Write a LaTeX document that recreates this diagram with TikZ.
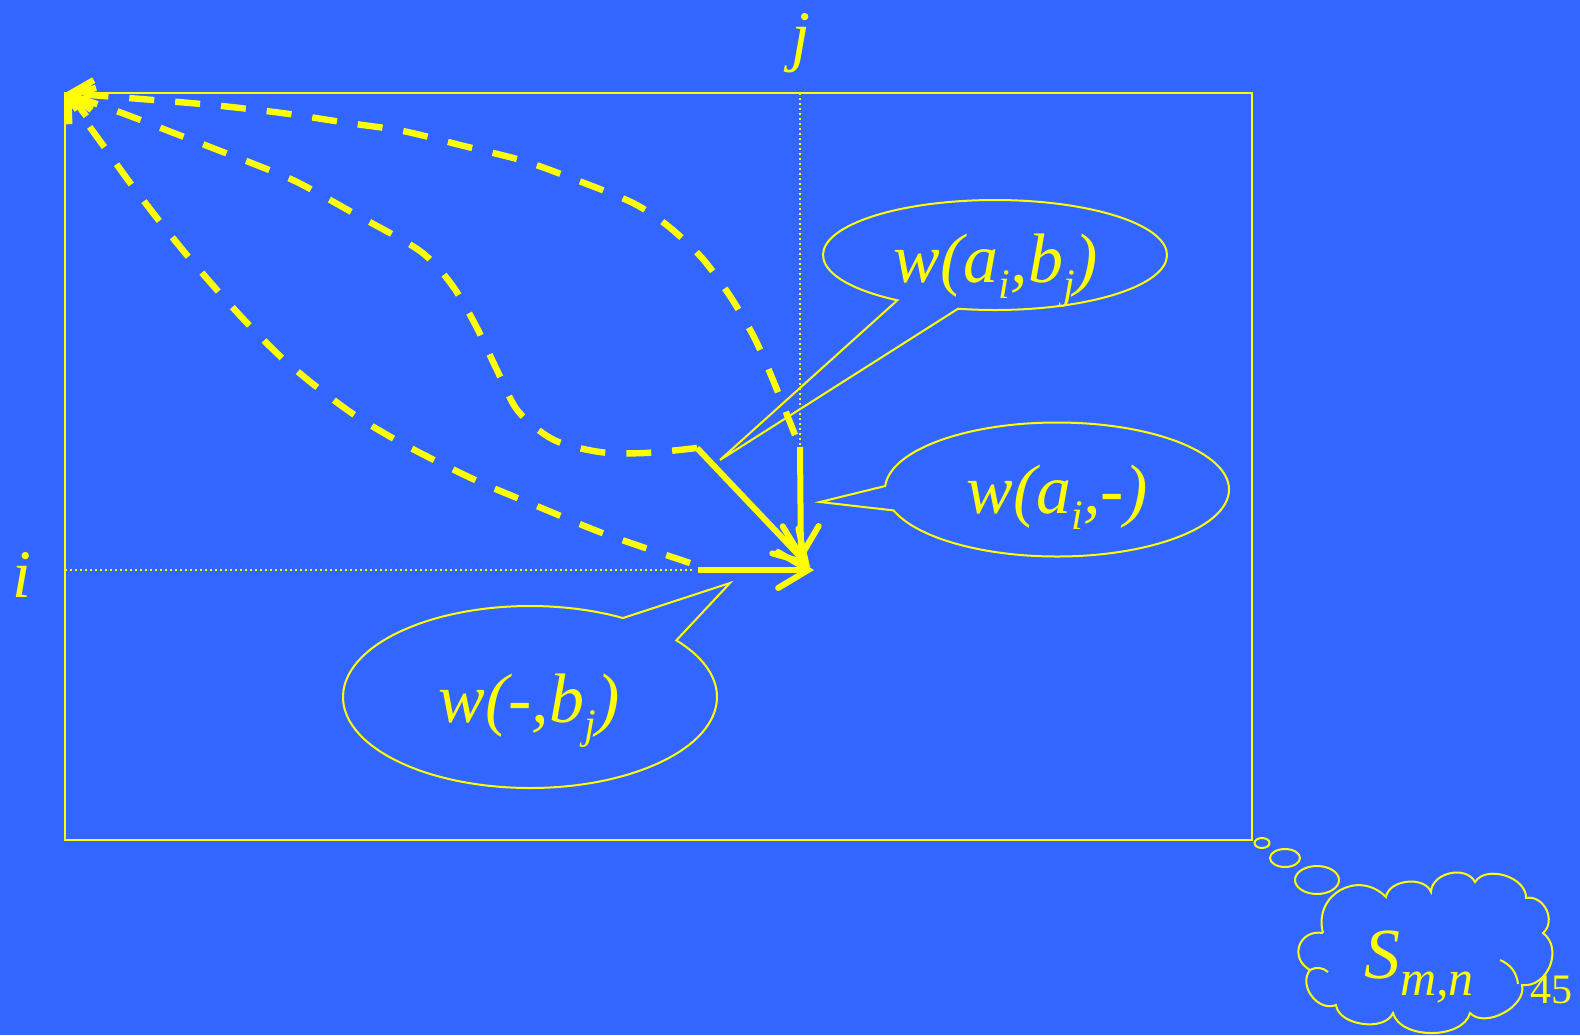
\documentclass[tikz,border=0pt]{standalone}
\usepackage{fontspec}
\setmainfont{Liberation Serif}
\usetikzlibrary{arrows.meta}
\definecolor{bg}{HTML}{3366FF}
\definecolor{yel}{HTML}{FFFF00}
\newcommand\sbx[1]{\raisebox{-8pt}{\fontsize{21}{21}\selectfont #1}}
\newcommand\sbs[1]{\raisebox{-8.5pt}{\fontsize{25}{25}\selectfont #1}}
\begin{document}
\begin{tikzpicture}[x=0.5pt,y=-0.5pt,
  thinline/.style={draw=yel,line width=1pt},
  frame/.style={draw=yel,line width=1.3pt},
  dotline/.style={draw=yel,line width=1pt,dash pattern=on 1pt off 1.5pt},
  callout/.style={draw=yel,line width=1pt,line join=miter},
  sarrow/.style={draw=yel,line width=3pt,-{Straight Barb[length=15pt,width=18pt,line cap=round]}},
  dcurve/.style={draw=yel,line width=3.2pt,dash pattern=on 12.5pt off 10.5pt,-{Straight Barb[length=11pt,width=15pt]}},
  lbl/.style={text=yel,inner sep=0pt,anchor=base,font=\fontsize{35}{40}\selectfont\itshape},
  axl/.style={text=yel,inner sep=0pt,anchor=base,font=\fontsize{34}{40}\selectfont\itshape}]
\fill[bg] (0,0) rectangle (1580,1035);
\useasboundingbox (0,0) rectangle (1580,1035);

% frame
\draw[frame] (65,93) rectangle (1252,840);

% key points
\coordinate (corner) at (65,93);
\coordinate (sV) at (800,447);
\coordinate (sD) at (697,448);
\coordinate (sH) at (698,570);
\coordinate (tipV) at (801,562);
\coordinate (tipD) at (810,567);
\coordinate (tipH) at (814,570);
\coordinate (dvTop) at (800,93);
\coordinate (dvBot) at (800,445);
\coordinate (dhL) at (65,570);
\coordinate (dhR) at (695,570);

% callouts
\coordinate (cA) at (995,255);
\coordinate (ptA) at (720,460);
\draw[callout] (cA) ++(124.6:172 and 55) arc[start angle=124.6,end angle=462.4,x radius=172,y radius=55] -- (ptA) -- cycle;
\coordinate (cB) at (1057,489.5);
\coordinate (ptB) at (820,502);
\draw[callout] (cB) ++(183:172 and 67) arc[start angle=183,end angle=521.8,x radius=172,y radius=67] -- (ptB) -- cycle;
\coordinate (cC) at (530,697);
\coordinate (ptC) at (730,583);
\draw[callout] (cC) ++(-38.5:187 and 91) arc[start angle=-38.5,end angle=299.8,x radius=187,y radius=91] -- (ptC) -- cycle;

\node[lbl] (tA) at (996,282) {w(a\sbx{i},b\sbx{j})};
\node[lbl] (tB) at (1057,513) {w(a\sbx{i},-)};
\node[lbl] (tC) at (529,722) {w(-,b\sbx{j})};

% axis labels
\node[axl] (lj) at (801,58) {j};
\node[axl] (li) at (22,597) {i};

% dotted guides
\draw[dotline] (dvTop) -- (dvBot);
\draw[dotline] (dhL) -- (dhR);

% dashed curves
\draw[dcurve] plot[smooth] coordinates {(795,435) (773,380) (754,337) (730,296) (702,258) (668,226) (633,203) (579,181) (524,161) (464,146) (403,131) (348,123) (282,113) (212,105) (141,99) (corner)};
\draw[dcurve] plot[smooth] coordinates {(sD) (645,453) (600,452) (554,440) (518,411) (496,368) (476,326) (452,285) (420,251) (355,214) (297,182) (254,164) (210,147) (166,130) (122,113) (corner)};
\draw[dcurve] plot[smooth] coordinates {(690,563) (605,534) (544,509) (484,484) (438,462) (396,440) (356,416) (318,388) (282,358) (248,324) (217,290) (186,254) (157,218) (128,180) (100,141) (corner)};

% solid arrows
\draw[sarrow] (sV) -- (tipV);
\draw[sarrow] (sD) -- (tipD);
\draw[sarrow] (sH) -- (tipH);

% thought bubbles
\draw[thinline] (1262,843) ellipse[x radius=7.5,y radius=5];
\draw[thinline] (1285,858) ellipse[x radius=15,y radius=9];
\draw[thinline] (1317,880) ellipse[x radius=22,y radius=14];

% cloud
\coordinate (v1) at (1323,933);
\coordinate (v2) at (1386,897);
\coordinate (v3) at (1431,892);
\coordinate (v4) at (1475,882);
\coordinate (v5) at (1526,898);
\coordinate (v6) at (1543,933);
\coordinate (v7) at (1522,985);
\coordinate (v8) at (1470,1013);
\coordinate (v9) at (1393,1013);
\coordinate (v10) at (1336,1005);
\coordinate (v11) at (1310,970);
\draw[thinline] (v1) to[bend left=75,looseness=1.4] (v2)
  to[bend left=75,looseness=1.0] (v3)
  to[bend left=75,looseness=1.1] (v4)
  to[bend left=75,looseness=1.0] (v5)
  to[bend left=75,looseness=1.2] (v6)
  to[bend left=75,looseness=1.18] (v7)
  to[bend left=75,looseness=0.95] (v8)
  to[bend left=75,looseness=0.92] (v9)
  to[bend left=75,looseness=0.92] (v10)
  to[bend left=75,looseness=1.15] (v11)
  to[bend left=80,looseness=1.6] (v1);
\draw[thinline] (1500,960) to[bend left=30] (1518,984);
\draw[thinline] (1310,970) to[bend left=35] (1328,972);

\node[text=yel,inner sep=0pt,anchor=base,font=\fontsize{36}{40}\selectfont\itshape] (S) at (1419,978) {S\sbs{m,n}};
\node[text=yel,inner sep=0pt,anchor=base,font=\fontsize{21}{24}\selectfont] (pg) at (1551,1003) {45};
\end{tikzpicture}
\end{document}
